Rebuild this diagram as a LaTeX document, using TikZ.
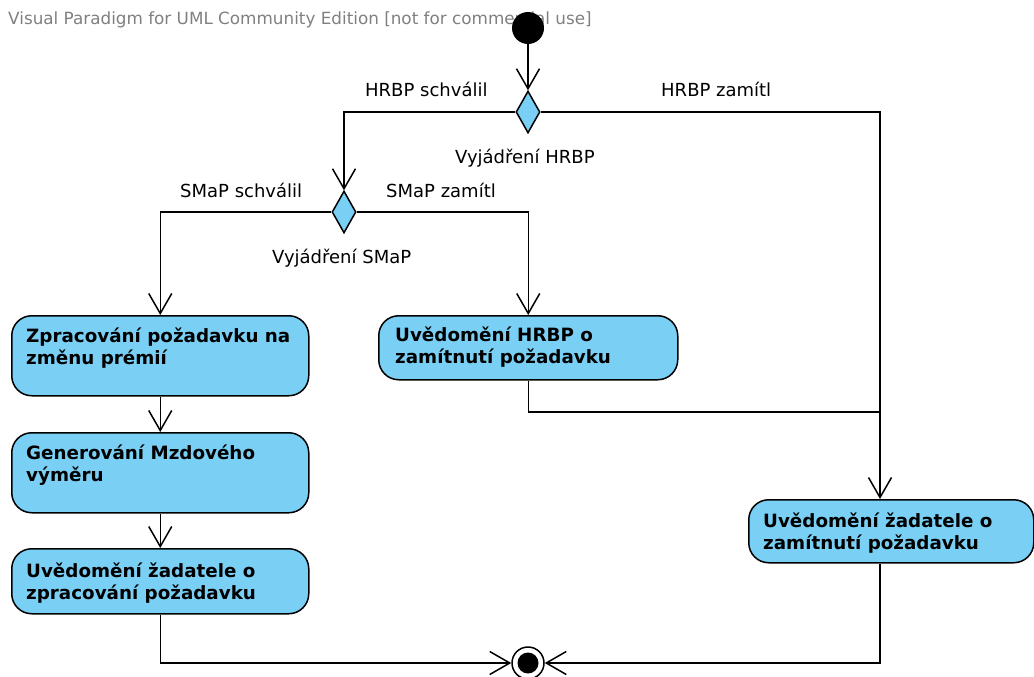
\documentclass[tikz,border=0pt]{standalone}
\usepackage{fontspec}
\setmainfont{DejaVu Sans}
\usetikzlibrary{arrows.meta,shapes.geometric,calc}
\definecolor{actfill}{RGB}{122,207,245}
\definecolor{wmgray}{RGB}{128,128,128}
\begin{document}
\begin{tikzpicture}[x=1pt,y=-1pt,
  flow/.style={line width=1.5pt, -{Straight Barb[length=20pt,width=23pt]}},
  conn/.style={line width=1.5pt},
  act/.style={draw, line width=1.5pt, fill=actfill, rounded corners=20pt, inner sep=0pt, anchor=north west},
  acttext/.style={anchor=north west, inner sep=0pt, align=left, font=\bfseries\fontsize{18.3}{22}\selectfont},
  dec/.style={diamond, draw, line width=1.5pt, fill=actfill, inner sep=0pt, minimum width=24pt, minimum height=42pt, aspect=0.57},
  lbl/.style={anchor=base west, inner sep=0pt, font=\fontsize{18}{22}\selectfont},
]
\useasboundingbox (0,0) rectangle (1034,677);
\node[anchor=base west, inner sep=0pt, text=wmgray, font=\fontsize{16.8}{20}\selectfont] (wm) at (8,25) {Visual Paradigm for UML Community Edition [not for commercial use]};

\node[circle, fill=black, minimum size=32pt, inner sep=0pt] (init) at (528,28) {};
\node[dec] (d1) at (528,112) {};
\node[dec] (d2) at (344,212) {};

\node[act, minimum width=297pt, minimum height=80pt] (n1) at (11,315) {};
\node[act, minimum width=297pt, minimum height=80pt] (n2) at (11,432) {};
\node[act, minimum width=297pt, minimum height=65pt] (n3) at (11,548) {};
\node[act, minimum width=299pt, minimum height=64pt] (hn) at (378,315) {};
\node[act, minimum width=285pt, minimum height=63pt] (rn) at (748,499) {};

\node[acttext] (t1) at ($(n1.north west)+(15,11)$) {\rule{0pt}{16pt}Zpracování požadavku na\\změnu prémií};
\node[acttext] (t2) at ($(n2.north west)+(15,11)$) {\rule{0pt}{16pt}Generování Mzdového\\výměru};
\node[acttext] (t3) at ($(n3.north west)+(15,13)$) {\rule{0pt}{16pt}Uvědomění žadatele o\\zpracování požadavku};
\node[acttext] (th) at ($(hn.north west)+(17,10)$) {\rule{0pt}{16pt}Uvědomění HRBP o\\zamítnutí požadavku};
\node[acttext] (tr) at ($(rn.north west)+(15,12)$) {\rule{0pt}{16pt}Uvědomění žadatele o\\zamítnutí požadavku};

\node[circle, draw, line width=1.5pt, fill=white, minimum size=32pt, inner sep=0pt] (fin) at (528,663) {};
\fill (fin.center) circle[radius=10.5pt];

\coordinate (rtop) at ($(rn.north west)+(132,0)$);
\coordinate (rbot) at ($(rn.south west)+(132,0)$);
\coordinate (j) at (880,412);

\draw[flow] (init) -- (d1);
\draw[flow] (d1.west) -| (d2.north);
\draw[flow] (d1.east) -| (rtop);
\draw[conn] (hn.south) |- (j);
\draw[flow] (d2.west) -| (n1.north);
\draw[flow] (d2.east) -| (hn.north);
\draw[flow] (n1) -- (n2);
\draw[flow] (n2) -- (n3);
\draw[flow] (n3.south) |- (fin.west);
\draw[flow] (rbot) |- (fin.east);

\node[lbl] (l1) at (365,96) {HRBP schválil};
\node[lbl] (l2) at (661,96) {HRBP zamítl};
\node[lbl] (l3) at (455,163) {Vyjádření HRBP};
\node[lbl] (l4) at (180,197) {SMaP schválil};
\node[lbl] (l5) at (386,197) {SMaP zamítl};
\node[lbl] (l6) at (272,263) {Vyjádření SMaP};
\end{tikzpicture}
\end{document}
